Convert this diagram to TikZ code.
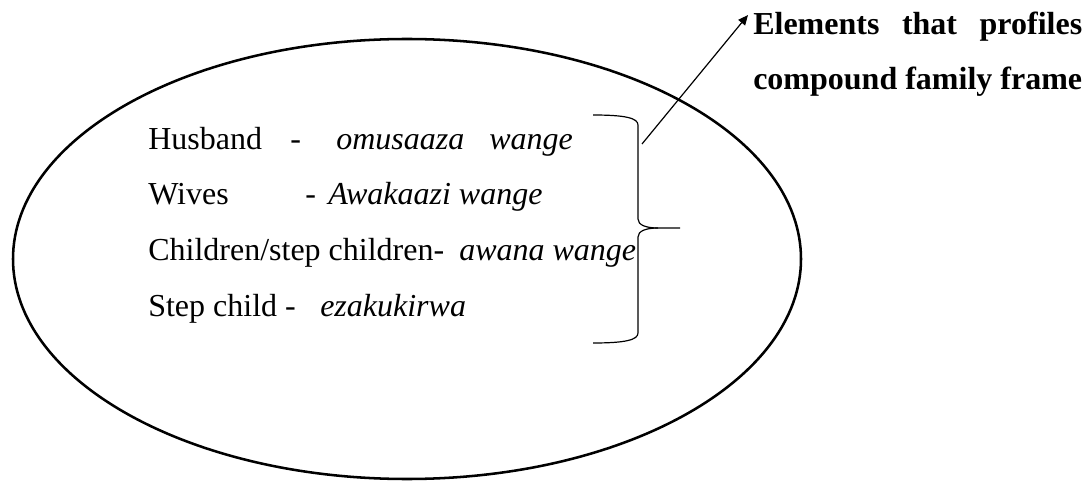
\documentclass[tikz,border=0pt]{standalone}
\usepackage{fontspec}
\setmainfont{Liberation Serif}
\usetikzlibrary{arrows.meta}
\begin{document}
\begin{tikzpicture}[x=0.75pt,y=-0.75pt,
  txt/.style={anchor=base west, inner sep=0pt, font=\fontsize{24}{28}\selectfont},
  term/.style={txt, font=\fontsize{24}{28}\selectfont\itshape},
  heading/.style={txt, font=\fontsize{24}{28}\selectfont\bfseries},
  outline/.style={line width=1.9pt},
  brace/.style={line width=0.9pt},
  pointer/.style={line width=0.9pt, -{Triangle[length=7.5pt,width=6.5pt]}}]
\useasboundingbox (0,0) rectangle (1090,481);

% the frame
\draw[outline] (407,259) ellipse [x radius=394, y radius=220];

% members of the compound family
\node[txt]  (husband)  at (148,150) {Husband};
\node[txt]  (dashA)    at (290,150) {-};
\node[term] (husbandT) at (336,150) {omusaaza};
\node[term] (husbandW) at (489,150) {wange};

\node[txt]  (wives)    at (148,205) {Wives};
\node[txt]  (dashB)    at (305,205) {-};
\node[term] (wivesT)   at (328,205) {Awakaazi wange};

\node[txt]  (children)  at (148,261) {Children/step children-};
\node[term] (childrenT) at (459,261) {awana wange};

\node[txt]  (stepchild)  at (148,316) {Step child -};
\node[term] (stepchildT) at (320,316) {ezakukirwa};

% caption on the right
\node[heading] (capB) at (753,90) {compound family frame};
\node[heading] (capA) at (753,35) {\makebox[246.7pt][s]{Elements that profiles}};

% brace grouping the members
\coordinate (bt)  at (593,115);
\coordinate (bb)  at (593,343);
\coordinate (tip) at (680,228);
\coordinate (mid) at (658,228);
\draw[brace] (bt) .. controls (625,115) and (638,118) .. (638,125) -- (638,219)
  .. controls (638,225) and (646,228) .. (mid) -- (tip);
\draw[brace] (mid) .. controls (646,228) and (638,231) .. (638,237) -- (638,333)
  .. controls (638,340) and (625,343) .. (bb);

% pointer from the brace to the caption
\coordinate (tail) at (642,144);
\coordinate (head) at (748,15);
\draw[pointer] (tail) -- (head);
\end{tikzpicture}
\end{document}
